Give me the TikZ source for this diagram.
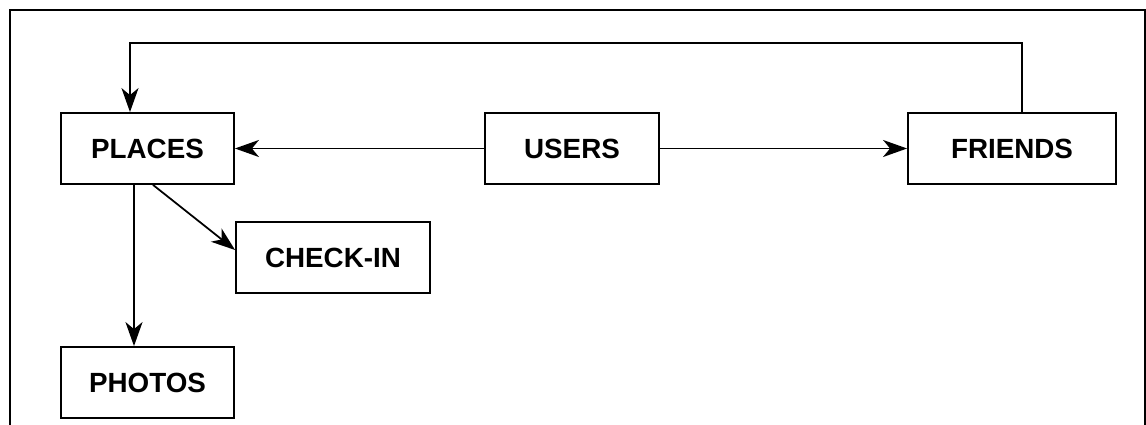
\documentclass[tikz,border=0pt]{standalone}
\usepackage{fontspec}
\setmainfont{Liberation Sans}
\usetikzlibrary{arrows.meta}

\begin{document}
\begin{tikzpicture}[x=0.01cm,y=-0.01cm,
    entity/.style={draw,line width=0.5pt,minimum height=0.71cm,inner sep=0pt,
      font=\fontsize{7.9}{9.5}\selectfont\bfseries},
    link/.style={-{Stealth[length=0.24cm,width=0.17cm,inset=0.07cm]},line width=0.5pt}]
  \useasboundingbox (0,0) rectangle (1146,425);
  \draw[line width=0.5pt] (10,425) -- (10,10) -- (1145,10) -- (1145,425);

  \node (places) [entity,minimum width=1.73cm] at (147.5,148.5) {PLACES};
  \node (users) [entity,minimum width=1.74cm] at (572,148.5) {USERS};
  \node (friends) [entity,minimum width=2.08cm] at (1012,148.5) {FRIENDS};
  \node (checkin) [entity,minimum width=1.94cm] at (333,257.5) {CHECK-IN};
  \node (photos) [entity,minimum width=1.73cm] at (147.5,382.5) {PHOTOS};
  \coordinate (turn) at (130,43);

  \draw[link] (users) -- (places);
  \draw[link] (users) -- (friends);
  \draw[link] ([xshift=0.1cm]friends.north) |- (turn) -- ([xshift=-0.175cm]places.north);
  \draw[link] ([xshift=-0.135cm]places.south) -- ([xshift=-0.135cm]photos.north);
  \draw[link] ([xshift=0.055cm]places.south) -- ([yshift=0.075cm]checkin.west);
\end{tikzpicture}
\end{document}
